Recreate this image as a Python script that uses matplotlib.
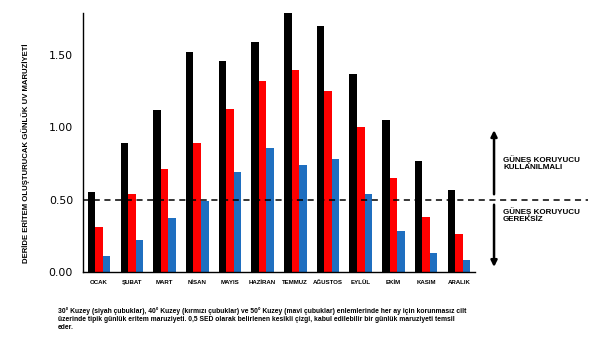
import matplotlib
matplotlib.use("Agg")
import matplotlib.pyplot as plt
import numpy as np

months = ["OCAK", "ŞUBAT", "MART", "NİSAN", "MAYIS", "HAZİRAN", "TEMMUZ",
          "AĞUSTOS", "EYLÜL", "EKİM", "KASIM", "ARALIK"]
north30 = [0.55, 0.89, 1.12, 1.52, 1.46, 1.59, 1.79, 1.70, 1.37, 1.05, 0.77, 0.57]
north40 = [0.31, 0.54, 0.71, 0.89, 1.13, 1.32, 1.40, 1.25, 1.00, 0.65, 0.38, 0.26]
north50 = [0.11, 0.22, 0.37, 0.49, 0.69, 0.86, 0.74, 0.78, 0.54, 0.28, 0.13, 0.08]
yticks = [0.0, 0.5, 1.0, 1.5]
ytick_labels = ["0.00", "0.50", "1.00", "1.50"]
threshold = 0.5

fig = plt.figure(figsize=(6, 3.55), dpi=100)
ax = fig.add_axes([0.138, 0.234, 0.654, 0.729])

x = np.arange(len(months))
w = 0.23
ax.bar(x - w, north30, w, color="black")
ax.bar(x, north40, w, color="#FF0000")
ax.bar(x + w, north50, w, color="#1F6FC0")

ax.set_xlim(-0.5, len(months) - 0.5)
ax.set_ylim(0, 1.79)
ax.set_yticks(yticks)
ax.set_yticklabels(ytick_labels, fontsize=7.8, family="DejaVu Sans")
ax.set_xticks(x)
ax.set_xticklabels(months, fontsize=4.4, fontweight="bold", family="Liberation Sans")
ax.tick_params(axis="y", length=0, pad=7)
ax.tick_params(axis="x", length=0, pad=6)
for s in ["top", "right"]:
    ax.spines[s].set_visible(False)
ax.spines["left"].set_linewidth(1.0)
ax.spines["bottom"].set_linewidth(1.0)

trans = ax.get_yaxis_transform()
ax.plot([0, 1.288], [threshold, threshold], transform=trans, color="black",
        lw=1.1, ls=(0, (4, 3)), clip_on=False)

ax.annotate("", xy=(1.048, 1.0), xytext=(1.048, 0.518), xycoords=trans, textcoords=trans,
            arrowprops=dict(arrowstyle="-|>", color="black", lw=1.8, mutation_scale=9),
            annotation_clip=False)
ax.annotate("", xy=(1.048, 0.015), xytext=(1.048, 0.484), xycoords=trans, textcoords=trans,
            arrowprops=dict(arrowstyle="-|>", color="black", lw=1.8, mutation_scale=9),
            annotation_clip=False)

ax.text(1.071, 0.753, "GÜNEŞ KORUYUCU\nKULLANILMALI", transform=trans, fontsize=5.8,
        fontweight="bold", family="Liberation Sans", va="center", ha="left",
        linespacing=1.1, clip_on=False)
ax.text(1.071, 0.394, "GÜNEŞ KORUYUCU\nGEREKSİZ", transform=trans, fontsize=5.8,
        fontweight="bold", family="Liberation Sans", va="center", ha="left",
        linespacing=1.1, clip_on=False)

fig.text(0.042, 0.569, "DERİDE ERİTEM OLUŞTURUCAK GÜNLÜK UV MARUZİYETİ", rotation=90,
         fontsize=5.6, fontweight="bold", family="Liberation Sans", ha="center", va="center")

caption = ("30° Kuzey (siyah çubuklar), 40° Kuzey (kırmızı çubuklar) ve 50° Kuzey (mavi çubuklar) enlemlerinde her ay için korunmasız cilt\n"
           "üzerinde tipik günlük eritem maruziyeti. 0,5 SED olarak belirlenen kesikli çizgi, kabul edilebilir bir günlük maruziyeti temsil\n"
           "eder.")
fig.text(0.097, 1 - 307 / 355, caption, fontsize=4.9, fontweight="bold",
         family="Liberation Sans", ha="left", va="top", linespacing=1.25)

fig.savefig("out.png", dpi=100)
